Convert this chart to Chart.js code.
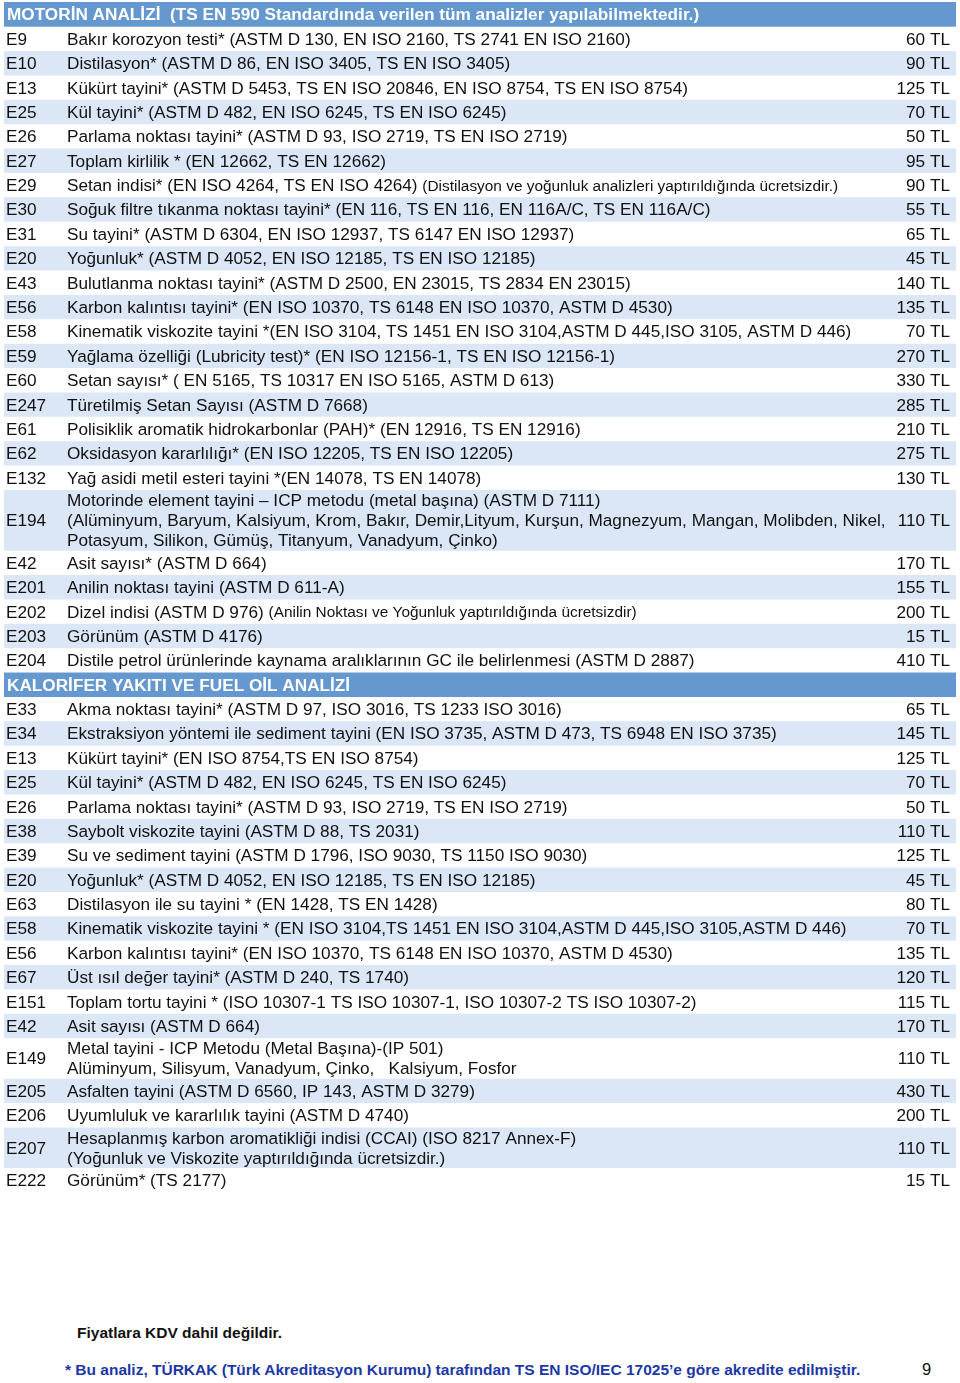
<!DOCTYPE html>
<html lang="tr">
<head>
<meta charset="utf-8">
<title>Motorin ve Fuel Oil Analiz Fiyatları</title>
<script src="https://cdn.jsdelivr.net/npm/chart.js@4.4.1/dist/chart.umd.min.js"></script>
<style>
    body { margin: 0; background: #fff; width: 960px; height: 1383px; position: relative; font-family: 'Liberation Sans', Arial, sans-serif; }
    #table-wrap { position: absolute; left: 0; top: 0; width: 960px; height: 1195px; }
    .note-kdv { position: absolute; left: 77px; top: 1324px; font-size: 15.5px; font-weight: bold; color: #111; }
    .note-akr { position: absolute; left: 65px; top: 1361px; font-size: 15.5px; font-weight: bold; color: #1c38a6; }
    .page-no { position: absolute; left: 922px; top: 1360px; font-size: 16.5px; color: #111; }
</style>
</head>
<body>
<div id="table-wrap"><canvas id="priceTable" width="960" height="1195"></canvas></div>
<div class="note-kdv">Fiyatlara KDV dahil değildir.</div>
<div class="note-akr">* Bu analiz, TÜRKAK (Türk Akreditasyon Kurumu) tarafından TS EN ISO/IEC 17025’e göre akredite edilmiştir.</div>
<div class="page-no">9</div>

<script>
// Section headers
const sectionTitles = [
    'MOTORİN ANALİZİ  (TS EN 590 Standardında verilen tüm analizler yapılabilmektedir.)',
    'KALORİFER YAKITI VE FUEL OİL ANALİZİ'
];

// Which section each row belongs to
const rowSection = [
    0,0,0,0,0,0,0,0,0,0,0,0,0,0,0,0,0,0,0,0,0,0,0,0,0,
    1,1,1,1,1,1,1,1,1,1,1,1,1,1,1,1,1,1,1
];

const rowCodes = [
    'E9','E10','E13','E25','E26','E27','E29','E30','E31','E20','E43','E56','E58','E59','E60','E247','E61','E62','E132','E194','E42','E201','E202','E203','E204',
    'E33','E34','E13','E25','E26','E38','E39','E20','E63','E58','E56','E67','E151','E42','E149','E205','E206','E207','E222'
];

// multi-line descriptions are split with \n
const rowTexts = [
    'Bakır korozyon testi* (ASTM D 130, EN ISO 2160, TS 2741 EN ISO 2160)',
    'Distilasyon* (ASTM D 86, EN ISO 3405, TS EN ISO 3405)',
    'Kükürt tayini* (ASTM D 5453, TS EN ISO 20846, EN ISO 8754, TS EN ISO 8754)',
    'Kül tayini* (ASTM D 482, EN ISO 6245, TS EN ISO 6245)',
    'Parlama noktası tayini* (ASTM D 93, ISO 2719, TS EN ISO 2719)',
    'Toplam kirlilik * (EN 12662, TS EN 12662)',
    'Setan indisi* (EN ISO 4264, TS EN ISO 4264)',
    'Soğuk filtre tıkanma noktası tayini* (EN 116, TS EN 116, EN 116A/C, TS EN 116A/C)',
    'Su tayini* (ASTM D 6304, EN ISO 12937, TS 6147 EN ISO 12937)',
    'Yoğunluk* (ASTM D 4052, EN ISO 12185, TS EN ISO 12185)',
    'Bulutlanma noktası tayini* (ASTM D 2500, EN 23015, TS 2834 EN 23015)',
    'Karbon kalıntısı tayini* (EN ISO 10370, TS 6148 EN ISO 10370, ASTM D 4530)',
    'Kinematik viskozite tayini *(EN ISO 3104, TS 1451 EN ISO 3104,ASTM D 445,ISO 3105, ASTM D 446)',
    'Yağlama özelliği (Lubricity test)* (EN ISO 12156-1, TS EN ISO 12156-1)',
    'Setan sayısı* ( EN 5165, TS 10317 EN ISO 5165, ASTM D 613)',
    'Türetilmiş Setan Sayısı (ASTM D 7668)',
    'Polisiklik aromatik hidrokarbonlar (PAH)* (EN 12916, TS EN 12916)',
    'Oksidasyon kararlılığı* (EN ISO 12205, TS EN ISO 12205)',
    'Yağ asidi metil esteri tayini *(EN 14078, TS EN 14078)',
    'Motorinde element tayini – ICP metodu (metal başına) (ASTM D 7111)\n(Alüminyum, Baryum, Kalsiyum, Krom, Bakır, Demir,Lityum, Kurşun, Magnezyum, Mangan, Molibden, Nikel,\nPotasyum, Silikon, Gümüş, Titanyum, Vanadyum, Çinko)',
    'Asit sayısı* (ASTM D 664)',
    'Anilin noktası tayini (ASTM D 611-A)',
    'Dizel indisi (ASTM D 976)',
    'Görünüm (ASTM D 4176)',
    'Distile petrol ürünlerinde kaynama aralıklarının GC ile belirlenmesi (ASTM D 2887)',
    'Akma noktası tayini* (ASTM D 97, ISO 3016, TS 1233 ISO 3016)',
    'Ekstraksiyon yöntemi ile sediment tayini (EN ISO 3735, ASTM D 473, TS 6948 EN ISO 3735)',
    'Kükürt tayini* (EN ISO 8754,TS EN ISO 8754)',
    'Kül tayini* (ASTM D 482, EN ISO 6245, TS EN ISO 6245)',
    'Parlama noktası tayini* (ASTM D 93, ISO 2719, TS EN ISO 2719)',
    'Saybolt viskozite tayini (ASTM D 88, TS 2031)',
    'Su ve sediment tayini (ASTM D 1796, ISO 9030, TS 1150 ISO 9030)',
    'Yoğunluk* (ASTM D 4052, EN ISO 12185, TS EN ISO 12185)',
    'Distilasyon ile su tayini * (EN 1428, TS EN 1428)',
    'Kinematik viskozite tayini * (EN ISO 3104,TS 1451 EN ISO 3104,ASTM D 445,ISO 3105,ASTM D 446)',
    'Karbon kalıntısı tayini* (EN ISO 10370, TS 6148 EN ISO 10370, ASTM D 4530)',
    'Üst ısıl değer tayini* (ASTM D 240, TS 1740)',
    'Toplam tortu tayini * (ISO 10307-1 TS ISO 10307-1, ISO 10307-2 TS ISO 10307-2)',
    'Asit sayısı (ASTM D 664)',
    'Metal tayini - ICP Metodu (Metal Başına)-(IP 501)\nAlüminyum, Silisyum, Vanadyum, Çinko,   Kalsiyum, Fosfor',
    'Asfalten tayini (ASTM D 6560, IP 143, ASTM D 3279)',
    'Uyumluluk ve kararlılık tayini (ASTM D 4740)',
    'Hesaplanmış karbon aromatikliği indisi (CCAI) (ISO 8217 Annex-F)\n(Yoğunluk ve Viskozite yaptırıldığında ücretsizdir.)',
    'Görünüm* (TS 2177)'
];

// small-print remarks after the description (by row index)
const rowNotes = {
    6: '(Distilasyon ve yoğunluk analizleri yaptırıldığında ücretsizdir.)',
    22: '(Anilin Noktası ve Yoğunluk yaptırıldığında ücretsizdir)'
};

// prices in TL
const rowPrices = [
    60, 90, 125, 70, 50, 95, 90, 55, 65, 45, 140, 135, 70, 270, 330, 285, 210, 275, 130, 110, 170, 155, 200, 15, 410,
    65, 145, 125, 70, 50, 110, 125, 45, 80, 70, 135, 120, 115, 170, 110, 430, 200, 110, 15
];

const HEADER_BLUE = '#6598cf';
const ROW_SHADE = '#dbe6f7';
const TEXT_COLOR = '#111111';
const FONT = "'Liberation Sans', Arial, sans-serif";
const BODY = '17.2px ' + FONT;
const SMALL = '15.4px ' + FONT;
const BOLD = 'bold 17.2px ' + FONT;

// build the band list (header rows + data rows) in row units
function rowUnits(text) {
    const n = text.split('\n').length;
    return n === 1 ? 1 : n * 0.83;
}

const bands = [];
let pos = 0;
let lastSection = -1;
let inSection = 0;
rowCodes.forEach((code, i) => {
    if (rowSection[i] !== lastSection) {
        lastSection = rowSection[i];
        bands.push({ type: 'header', sec: lastSection, start: pos, end: pos + 1 });
        pos += 1;
        inSection = 0;
    }
    const h = rowUnits(rowTexts[i]);
    bands.push({ type: 'row', idx: i, shaded: inSection % 2 === 1, start: pos, end: pos + h });
    pos += h;
    inSection++;
});
const totalUnits = pos;

const tableText = {
    id: 'tableText',
    afterDatasetsDraw(chart) {
        const ctx = chart.ctx;
        const yScale = chart.scales.y;
        const area = chart.chartArea;
        ctx.save();
        ctx.textBaseline = 'middle';
        bands.forEach(b => {
            const mid = (yScale.getPixelForValue(b.start) + yScale.getPixelForValue(b.end)) / 2 + 1.5;
            if (b.type === 'header') {
                ctx.fillStyle = '#ffffff';
                ctx.font = BOLD;
                ctx.textAlign = 'left';
                ctx.fillText(sectionTitles[b.sec], area.left + 3, mid);
                return;
            }
            const i = b.idx;
            ctx.fillStyle = TEXT_COLOR;
            ctx.font = BODY;
            ctx.textAlign = 'left';
            ctx.fillText(rowCodes[i], area.left + 2, mid);

            const lines = rowTexts[i].split('\n');
            lines.forEach((line, k) => {
                const ly = mid + (k - (lines.length - 1) / 2) * 20;
                ctx.font = BODY;
                ctx.fillText(line, area.left + 63, ly);
                if (k === 0 && rowNotes[i]) {
                    const w = ctx.measureText(line + ' ').width;
                    ctx.font = SMALL;
                    ctx.fillText(rowNotes[i], area.left + 63 + w, ly);
                }
            });

            ctx.font = BODY;
            ctx.textAlign = 'right';
            ctx.fillText(rowPrices[i] + ' TL', area.right - 6, mid);
        });
        ctx.restore();
    }
};

const datasets = bands.map(b => ({
    data: [[b.start, b.end]],
    backgroundColor: b.type === 'header' ? HEADER_BLUE : (b.shaded ? ROW_SHADE : '#ffffff'),
    borderWidth: 0,
    barPercentage: 1,
    categoryPercentage: 1
}));

new Chart(document.getElementById('priceTable'), {
    type: 'bar',
    data: { labels: [''], datasets: datasets },
    options: {
        responsive: false,
        animation: false,
        grouped: false,
        layout: { padding: { top: 2, bottom: 3, left: 4, right: 4 } },
        scales: {
            x: { display: false },
            y: { display: false, reverse: true, min: 0, max: totalUnits }
        },
        plugins: {
            legend: { display: false },
            tooltip: { enabled: false }
        }
    },
    plugins: [tableText]
});
</script>
</body>
</html>
